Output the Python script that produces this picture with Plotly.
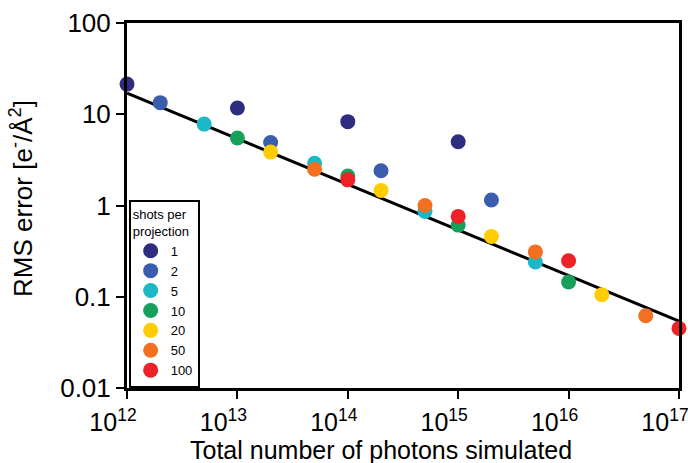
import plotly.graph_objects as go

# Data
series_names = ["1", "2", "5", "10", "20", "50", "100"]
series_colors = ["#2E2D7F", "#3A5DAE", "#1DB8C8", "#16A05A", "#FFCC00", "#F37021", "#EC2227"]

x_1 = [1e12, 1e13, 1e14, 1e15]
y_1 = [21.4, 11.7, 8.3, 5.0]

x_2 = [2e12, 2e13, 2e14, 2e15]
y_2 = [13.4, 4.9, 2.4, 1.15]

x_5 = [5e12, 5e13, 5e14, 5e15]
y_5 = [7.8, 2.9, 0.86, 0.24]

x_10 = [1e13, 1e14, 1e15, 1e16]
y_10 = [5.5, 2.1, 0.61, 0.145]

x_20 = [2e13, 2e14, 2e15, 2e16]
y_20 = [3.85, 1.46, 0.457, 0.105]

x_50 = [5e13, 5e14, 5e15, 5e16]
y_50 = [2.5, 1.0, 0.31, 0.062]

x_100 = [1e14, 1e15, 1e16, 1e17]
y_100 = [1.91, 0.76, 0.248, 0.045]

fit_x = [1e12, 1e17]
fit_y = [17.0, 0.054]

x_tickvals = [1e12, 1e13, 1e14, 1e15, 1e16, 1e17]
x_ticktext = ["10<sup>12</sup>", "10<sup>13</sup>", "10<sup>14</sup>", "10<sup>15</sup>",
              "10<sup>16</sup>", "10<sup>17</sup>"]
y_tickvals = [0.01, 0.1, 1, 10, 100]
y_ticktext = ["0.01", "0.1", "1", "10", "100"]

x_title = "Total number of photons simulated"
y_title = "RMS error [e<sup>-</sup>/Å<sup>2</sup>]"

xs = [x_1, x_2, x_5, x_10, x_20, x_50, x_100]
ys = [y_1, y_2, y_5, y_10, y_20, y_50, y_100]

fig = go.Figure()
fig.add_trace(go.Scatter(x=fit_x, y=fit_y, mode="lines",
                         line=dict(color="black", width=3),
                         showlegend=False, cliponaxis=False))
for name, color, xv, yv in zip(series_names, series_colors, xs, ys):
    fig.add_trace(go.Scatter(x=xv, y=yv, mode="markers", name=name,
                             marker=dict(color=color, size=15, line=dict(width=0)),
                             cliponaxis=False))

font_family = "Liberation Sans, Arial, sans-serif"
fig.update_layout(
    width=688, height=463,
    margin=dict(l=127, r=9, t=23, b=75),
    paper_bgcolor="white", plot_bgcolor="white",
    font=dict(family=font_family, color="black"),
    xaxis=dict(type="log", range=[11.9999, 17.0001], tickvals=x_tickvals, ticktext=x_ticktext,
               showline=True, linewidth=3, linecolor="black", mirror=True,
               ticks="outside", ticklen=8, tickwidth=2, tickcolor="black",
               showgrid=False, zeroline=False, tickfont=dict(size=25),
               ticklabelshift=-14, ticklabelstandoff=2, ticklabeloverflow="allow",
               automargin=False),
    yaxis=dict(type="log", range=[-2, 2], tickvals=y_tickvals, ticktext=y_ticktext,
               showline=True, linewidth=3, linecolor="black", mirror=True,
               ticks="outside", ticklen=8, tickwidth=2, tickcolor="black",
               showgrid=False, zeroline=False, tickfont=dict(size=26),
               ticklabeloverflow="allow", automargin=False),
    legend=dict(x=0.003, y=0.0, xanchor="left", yanchor="bottom",
                bordercolor="black", borderwidth=2, bgcolor="white",
                title=dict(text="shots per<br>projection", font=dict(size=13)),
                font=dict(size=13), itemwidth=30, tracegroupgap=0),
    annotations=[
        dict(text=x_title, xref="paper", yref="paper", x=0.46, y=0,
             xanchor="center", yanchor="top", yshift=-46, showarrow=False,
             font=dict(size=25)),
        dict(text=y_title, xref="paper", yref="paper", x=0, y=0.518,
             xanchor="center", yanchor="middle", xshift=-105, showarrow=False,
             textangle=-90, font=dict(size=26)),
    ],
)

fig.write_html("out.html")
